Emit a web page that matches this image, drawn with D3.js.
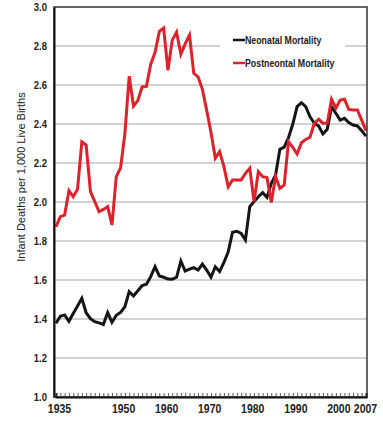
<!DOCTYPE html>
<html><head><meta charset="utf-8">
<script src="https://cdn.jsdelivr.net/npm/d3@7"></script>
<style>
html,body{margin:0;padding:0;background:#fff;}
svg{display:block;}
text{font-family:"Liberation Sans",Arial,sans-serif;}
</style></head>
<body><svg id="c" width="383" height="424"></svg>
<script>
const years = d3.range(1935, 2008);
const neonatal = [1.378,1.414,1.421,1.388,1.428,1.467,1.506,1.432,1.402,1.386,
1.380,1.372,1.433,1.383,1.419,1.434,1.463,1.540,1.518,1.545,
1.571,1.578,1.617,1.668,1.621,1.614,1.605,1.604,1.614,1.697,
1.646,1.656,1.663,1.651,1.682,1.651,1.614,1.668,1.643,1.690,
1.745,1.845,1.850,1.839,1.805,1.976,2.002,2.027,2.048,2.024,
2.096,2.138,2.270,2.281,2.330,2.400,2.489,2.509,2.489,2.437,
2.404,2.390,2.349,2.373,2.489,2.455,2.420,2.429,2.407,2.395,
2.390,2.366,2.338];
const postneonatal = [1.873,1.925,1.933,2.058,2.027,2.065,2.309,2.292,2.053,2.002,
1.950,1.962,1.976,1.882,2.130,2.175,2.350,2.645,2.492,2.520,
2.590,2.593,2.707,2.766,2.875,2.892,2.675,2.830,2.871,2.758,
2.811,2.856,2.660,2.642,2.578,2.470,2.356,2.224,2.258,2.181,
2.078,2.113,2.113,2.113,2.147,2.173,2.002,2.155,2.130,2.126,
1.997,2.130,2.070,2.087,2.309,2.280,2.246,2.304,2.321,2.332,
2.404,2.424,2.404,2.404,2.527,2.481,2.523,2.527,2.475,2.472,
2.472,2.420,2.366];
const xTickLabels = [1935,1950,1960,1970,1980,1990,2000,2007];
const yTicks = [1.0,1.2,1.4,1.6,1.8,2.0,2.2,2.4,2.6,2.8,3.0];
const seriesNames = ["Neonatal Mortality","Postneontal Mortality"];
const seriesColors = ["#151515","#e0202a"];
const yTitle = "Infant Deaths per 1,000 Live Births";

const svg = d3.select("#c");
const L = 54, R = 367, T = 7, B = 397;
const x = d3.scaleLinear().domain([1935, 2007]).range([56, 366]);
const y = d3.scaleLinear().domain([1.0, 3.0]).range([B, T]);

// compress text horizontally to imitate a narrow face
function narrow(sel, f) {
  sel.each(function() {
    const w = this.getComputedTextLength();
    d3.select(this).attr("textLength", w * f).attr("lengthAdjust", "spacingAndGlyphs");
  });
}

// gridlines
svg.append("g").selectAll("line").data(yTicks.filter(v => v > 1.01 && v < 2.99)).join("line")
  .attr("x1", L).attr("x2", R).attr("y1", d => y(d)).attr("y2", d => y(d))
  .attr("stroke", "#a8a8a8").attr("stroke-width", 1.2);

// legend background
const lg = svg.append("g");
lg.append("rect").attr("x", 220).attr("y", 26).attr("width", 125).attr("height", 48).attr("fill", "#fff");

// lines
const line = d3.line().x((d, i) => x(years[i])).y(d => y(d));
[neonatal, postneonatal].forEach((s, k) => {
  svg.append("path").datum(s).attr("d", line).attr("fill", "none")
    .attr("stroke", seriesColors[k]).attr("stroke-width", 3).attr("stroke-linejoin", "miter");
});

// legend entries
seriesNames.forEach((n, k) => {
  const yy = 40 + k * 23;
  lg.append("line").attr("x1", 233).attr("x2", 245).attr("y1", yy).attr("y2", yy)
    .attr("stroke", seriesColors[k]).attr("stroke-width", 2.5);
  lg.append("text").attr("x", 245).attr("y", yy + 4).text(n)
    .attr("font-size", "11px").attr("font-weight", "bold").attr("fill", "#222")
    .call(narrow, 0.8);
});

// frame
svg.append("rect").attr("x", L).attr("y", T).attr("width", R - L).attr("height", B - T)
  .attr("fill", "none").attr("stroke", "#333").attr("stroke-width", 1.5);

// y axis
const ya = svg.append("g").attr("transform", `translate(${L},0)`)
  .call(d3.axisLeft(y).tickValues(yTicks).tickFormat(d3.format(".1f")).tickSize(0).tickPadding(7));
ya.select(".domain").attr("stroke", "#111").attr("stroke-width", 2);
ya.selectAll("text").attr("font-size", "11px").attr("font-weight", "bold").attr("fill", "#222")
  .attr("font-family", null).call(narrow, 0.86);

// x axis: minor year ticks
const xm = svg.append("g").attr("transform", `translate(0,${B})`)
  .call(d3.axisBottom(x).tickValues(years).tickSize(-4).tickFormat(""));
xm.select(".domain").attr("stroke", "#111").attr("stroke-width", 2);
xm.selectAll(".tick line").attr("stroke", "#333").attr("stroke-width", 0.8);

// x axis labels
const xa = svg.append("g").attr("transform", `translate(0,${B})`)
  .call(d3.axisBottom(x).tickValues(xTickLabels).tickFormat(d3.format("d")).tickSize(0).tickPadding(7));
xa.select(".domain").remove();
xa.selectAll("text").attr("font-size", "12.5px").attr("font-weight", "bold").attr("fill", "#222")
  .attr("font-family", null)
  .attr("dx", d => d === 2007 ? -1 : (d === 1935 ? 3 : 2.5))
  .call(narrow, 0.84);

// y title
svg.append("text").attr("transform", "translate(25,177) rotate(-90)")
  .attr("text-anchor", "middle").attr("font-size", "11px").attr("fill", "#222").text(yTitle);
</script></body></html>
